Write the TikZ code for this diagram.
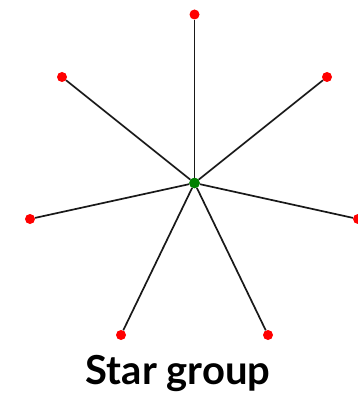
\documentclass[tikz,border=0pt]{standalone}
\usepackage{fontspec}
\setmainfont{Lato}
\tikzset{
  leaf/.style={circle,fill=red,inner sep=0pt,minimum size=10pt},
  hub/.style={circle,fill=green!50!black,inner sep=0pt,minimum size=10.5pt},
  spoke/.style={line width=1.7pt,black!90}
}
\begin{document}
\begin{tikzpicture}[x=1pt,y=-1pt]
  \useasboundingbox (0,0) rectangle (358,393);
  \node[hub] (c) at (194.5,183) {};
  \foreach \n/\px/\py in {a/194.5/14.5, b/327/77, d/358/219, e/268/335,
                          f/121/335, g/30/219, h/62/77}
  {
    \node[leaf] (\n) at (\px,\py) {};
    \draw[spoke] (c) -- (\n);
  }
  \node[hub] at (c) {};
  \node[font=\bfseries\fontsize{40}{46}\selectfont] (title) at (178,373) {Star group};
\end{tikzpicture}
\end{document}
